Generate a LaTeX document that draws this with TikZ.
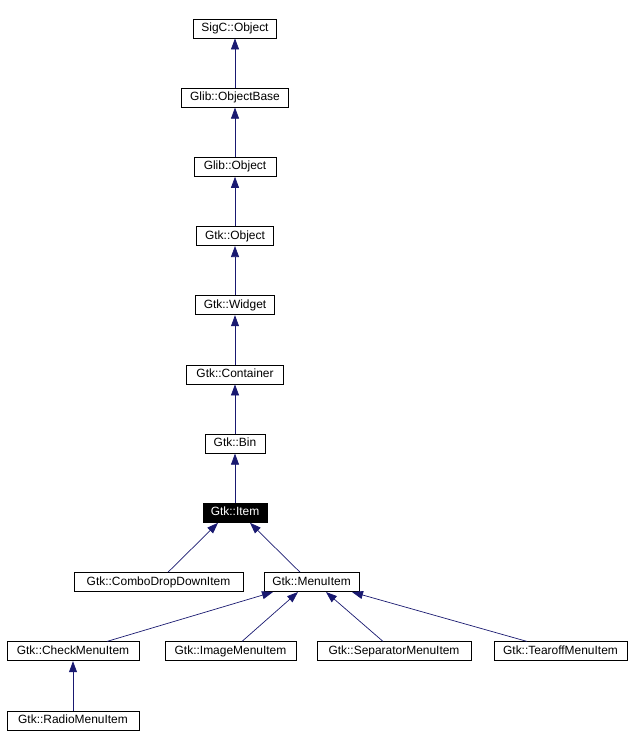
\documentclass[tikz,border=0pt]{standalone}
\usepackage{fontspec}
\setmainfont{Liberation Sans}
\usetikzlibrary{positioning}
\usetikzlibrary{arrows.meta}
\definecolor{doxyblue}{RGB}{25,25,112}
\tikzset{
  cls/.style={draw, line width=0.8bp, minimum width=#1, minimum height=19bp, inner sep=0pt,
    text height=8.3bp, text depth=2.2bp, font=\fontsize{12}{14}\selectfont},
  clscur/.style={cls=#1, fill=black, text=white},
  inh/.style={draw=doxyblue, line width=0.7bp, -{Triangle[length=11bp,width=8bp]}},
}

\begin{document}
\begin{tikzpicture}[x=1bp,y=-1bp]
  \useasboundingbox (0,0) rectangle (633,748);

  \node[cls=83bp] (sigcobj) at (235,28.5) {SigC::Object};
  \node[cls=107bp, below=49.4bp of sigcobj] (glibobjbase) {Glib::ObjectBase};
  \node[cls=82bp, below=49.4bp of glibobjbase] (glibobj) {Glib::Object};
  \node[cls=77bp, below=49.4bp of glibobj] (gtkobj) {Gtk::Object};
  \node[cls=79bp, below=49.4bp of gtkobj] (widget) {Gtk::Widget};
  \node[cls=97bp, below=49.4bp of widget] (container) {Gtk::Container};
  \node[cls=60bp, below=49.4bp of container] (bin) {Gtk::Bin};
  \node[clscur=64bp, below=49.4bp of bin] (item) {Gtk::Item};

  \node[cls=169bp, below=49.4bp of item, xshift=-76.5bp] (combo) {Gtk::ComboDropDownItem};
  \node[cls=95bp, below=49.4bp of item, xshift=76.5bp] (menuitem) {Gtk::MenuItem};

  \node[cls=132bp, below=49.4bp of menuitem, xshift=-238.5bp] (check) {Gtk::CheckMenuItem};
  \node[cls=131bp, below=49.4bp of menuitem, xshift=-81bp] (image) {Gtk::ImageMenuItem};
  \node[cls=154bp, below=49.4bp of menuitem, xshift=82.5bp] (separator) {Gtk::SeparatorMenuItem};
  \node[cls=133bp, below=49.4bp of menuitem, xshift=249bp] (tearoff) {Gtk::TearoffMenuItem};

  \node[cls=132bp, below=49.4bp of check] (radio) {Gtk::RadioMenuItem};

  \draw[inh] (glibobjbase) -- (sigcobj);
  \draw[inh] (glibobj) -- (glibobjbase);
  \draw[inh] (gtkobj) -- (glibobj);
  \draw[inh] (widget) -- (gtkobj);
  \draw[inh] (container) -- (widget);
  \draw[inh] (bin) -- (container);
  \draw[inh] (item) -- (bin);

  \draw[inh] ([xshift=9.5bp]combo.north) -- ([xshift=-17bp]item.south);
  \draw[inh] ([xshift=-11.5bp]menuitem.north) -- ([xshift=15bp]item.south);

  \draw[inh] ([xshift=34bp]check.north) -- ([xshift=-38.5bp]menuitem.south);
  \draw[inh] ([xshift=11.5bp]image.north) -- ([xshift=-13.5bp]menuitem.south);
  \draw[inh] ([xshift=-11bp]separator.north) -- ([xshift=14.5bp]menuitem.south);
  \draw[inh] ([xshift=-33.5bp]tearoff.north) -- ([xshift=40.5bp]menuitem.south);

  \draw[inh] (radio) -- (check);
\end{tikzpicture}
\end{document}
